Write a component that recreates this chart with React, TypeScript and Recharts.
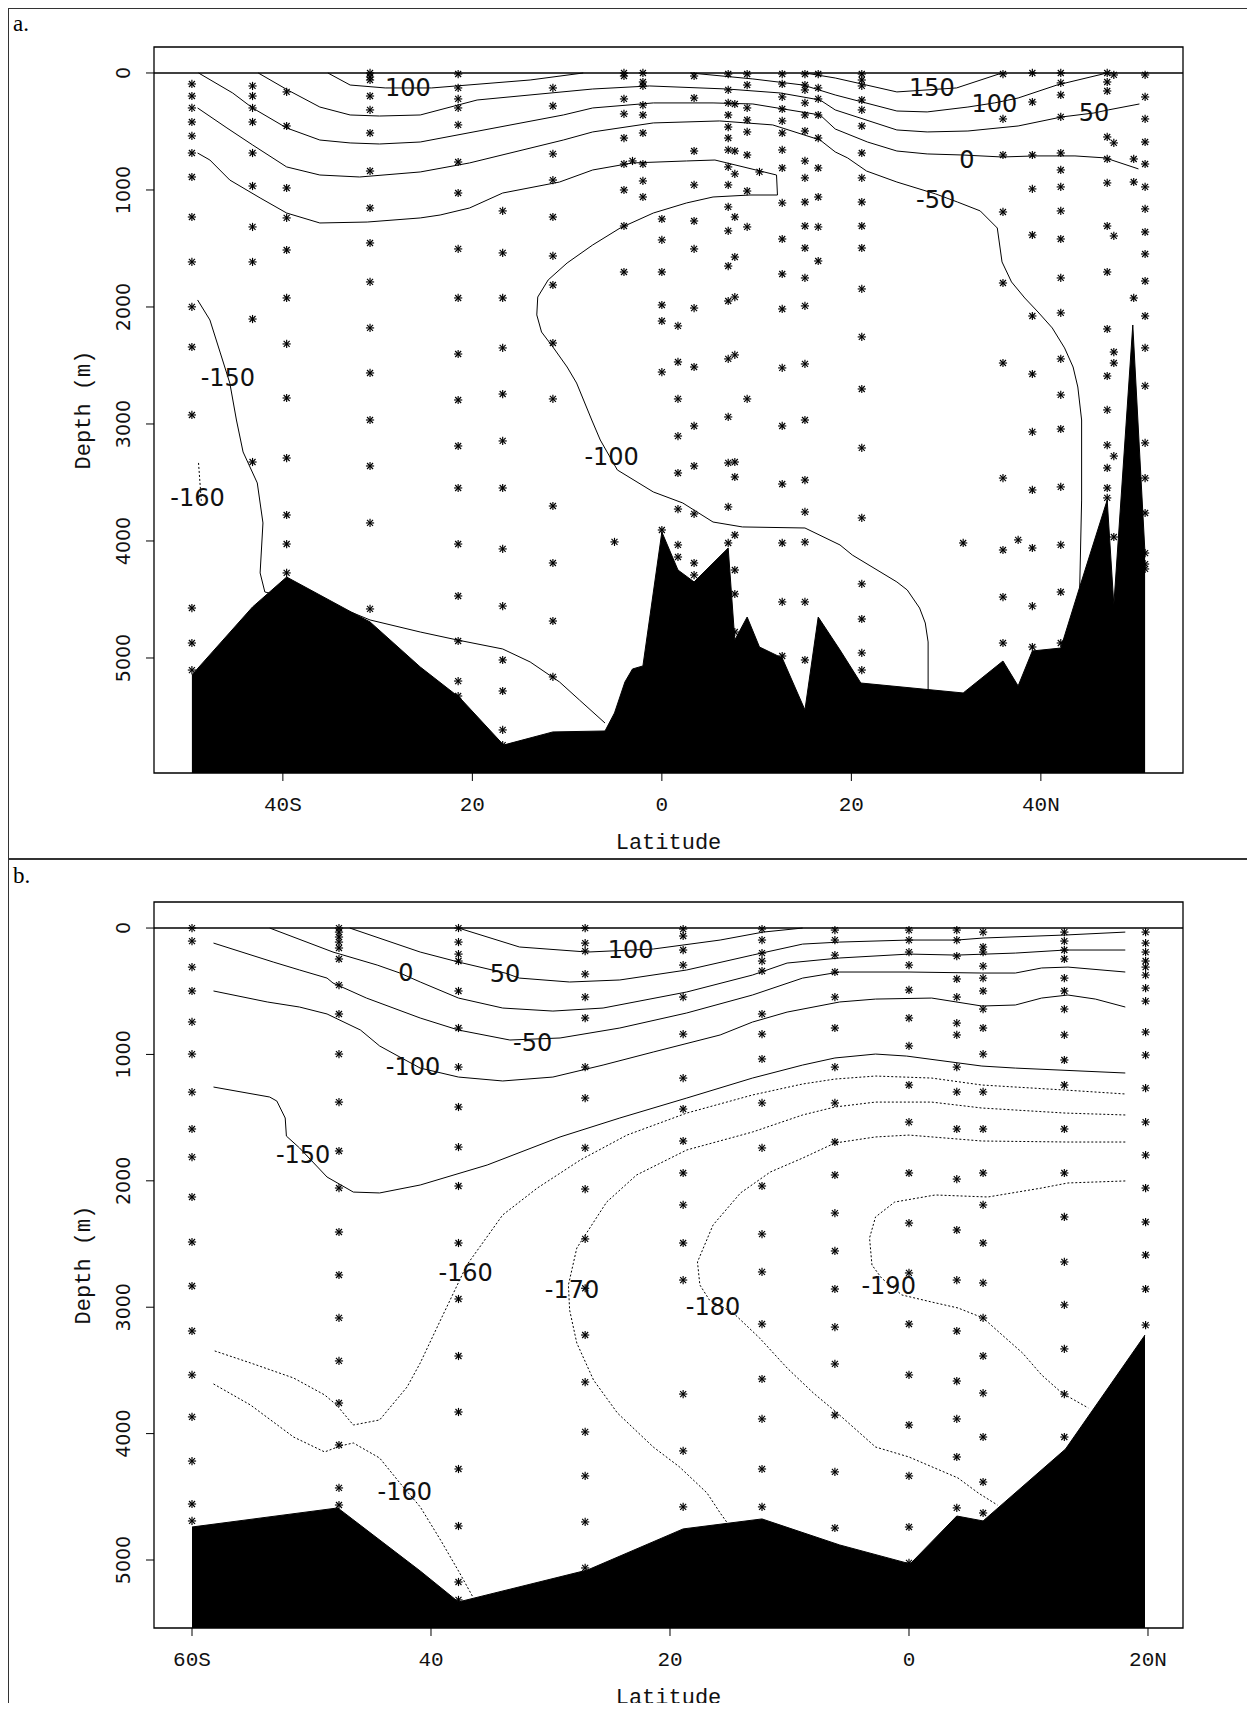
import React from "react";
import {
  ComposedChart,
  XAxis,
  YAxis,
  Line,
  Area,
  Scatter,
  ReferenceLine,
  ReferenceArea,
  Label,
} from "recharts";

type Pair = [number, number]; // [latitude, depth]
type Column = [number, number[]]; // station latitude, sample depths
type Tag = [number, number, string];

const depthTicks = [0, 1000, 2000, 3000, 4000, 5000];

// ---------------- panel a ----------------
const latTicksA = [-40, -20, 0, 20, 40];
const latTickLabelsA = ["40S", "20", "0", "20", "40N"];

const bathyA: Pair[] = [
  [-49.6, 5145], [-43.2, 4564], [-39.6, 4308], [-32.6, 4615], [-30.8, 4692],
  [-25.5, 5077], [-21.3, 5342], [-16.7, 5744], [-11.5, 5632], [-6.0, 5624],
  [-5.0, 5470], [-3.9, 5205], [-3.1, 5094], [-2.0, 5068], [0.0, 3923],
  [1.7, 4248], [3.4, 4350], [7.0, 4060], [7.7, 4846], [9.0, 4650],
  [10.3, 4906], [12.7, 5000], [15.1, 5444], [16.5, 4650], [18.8, 4932],
  [21.0, 5214], [31.8, 5299], [36.0, 5026], [37.6, 5239], [39.1, 4940],
  [42.1, 4915], [44.1, 4393], [47.0, 3650], [47.7, 4547], [49.7, 2154],
  [51.0, 4120],
];

const a100West: Pair[] = [
  [-35.25, 0], [-32.9, 103], [-29.2, 128], [-24.3, 128], [-13.9, 60], [-8.3, 0],
];
const a150: Pair[] = [
  [15.1, 0], [18.3, 43], [21.1, 94], [24.8, 162], [31.1, 128], [35.9, 0],
];
const a100East: Pair[] = [
  [3.0, 0], [9.6, 51], [14.9, 103], [18.3, 188], [24.8, 325], [28.0, 333],
  [32.3, 291], [35.1, 256], [37.6, 214], [41.7, 103], [47.0, 0],
];
const a50: Pair[] = [
  [-42.6, 0], [-39.5, 145], [-36.1, 291], [-32.9, 359], [-29.8, 368], [-25.5, 359],
  [-19.5, 231], [-7.3, 137], [-1.3, 111], [6.9, 137], [12.5, 171], [16.7, 231],
  [18.3, 316], [24.8, 487], [28.0, 504], [32.3, 496], [37.6, 453], [42.2, 376],
  [45.6, 342], [47.1, 316], [50.4, 265],
];
const a0: Pair[] = [
  [-48.9, 0], [-45.3, 171], [-43.2, 299], [-39.6, 470], [-36.1, 573], [-32.9, 598],
  [-29.8, 607], [-25.5, 590], [-10.4, 359], [-7.3, 299], [-0.9, 256], [5.4, 256],
  [9.6, 265], [16.7, 359], [18.3, 479], [21.7, 590], [24.8, 667], [28.0, 692],
  [31.7, 701], [35.9, 718], [39.4, 709], [43.6, 709], [46.8, 726], [50.3, 820],
];
const aM50: Pair[] = [
  [-49.0, 299], [-45.9, 470], [-43.2, 615], [-39.6, 803], [-36.1, 872], [-31.9, 889],
  [-25.5, 846], [-20.3, 769], [-10.4, 573], [-7.3, 504], [-0.9, 427], [6.1, 410],
  [11.7, 444], [16.7, 573], [18.3, 675], [19.6, 726], [21.6, 838], [24.8, 932],
  [28.9, 1034], [31.2, 1103], [33.6, 1179], [35.4, 1325], [35.9, 1615], [36.9, 1786],
  [38.3, 1923], [39.7, 2043], [41.2, 2179], [42.5, 2350], [43.4, 2513], [43.9, 2684],
  [44.3, 2966], [44.3, 3650], [44.1, 4393],
];
const aM100: Pair[] = [
  [-49.0, 684], [-47.7, 744], [-45.6, 915], [-42.4, 1068], [-39.6, 1197], [-36.1, 1282],
  [-31.1, 1274], [-25.5, 1239], [-23.4, 1214], [-20.3, 1154], [-16.8, 1026], [-10.8, 932],
  [-7.3, 829], [-3.1, 769], [2.6, 752], [5.6, 744], [12.1, 872], [12.2, 1043],
  [9.3, 1043], [5.4, 1060], [2.6, 1111], [-0.9, 1197], [-4.4, 1325], [-7.3, 1470],
  [-10.0, 1624], [-12.0, 1769], [-13.1, 1915], [-13.2, 2068], [-12.7, 2214], [-11.5, 2342],
  [-10.0, 2513], [-9.0, 2650], [-7.4, 2966], [-6.5, 3137], [-4.7, 3393], [-0.9, 3581],
  [2.2, 3675], [5.4, 3838], [8.5, 3880], [15.1, 3889], [18.8, 4034], [20.1, 4120],
  [24.8, 4350], [25.9, 4419], [27.2, 4573], [27.8, 4701], [28.1, 4863], [28.1, 5273],
];
const aM150: Pair[] = [
  [-49.0, 1940], [-47.7, 2111], [-46.6, 2393], [-45.6, 2650], [-44.9, 2966], [-44.2, 3239],
  [-42.7, 3504], [-42.1, 3846], [-42.4, 4273], [-41.9, 4436], [-40.6, 4461], [-32.6, 4615],
  [-30.8, 4675], [-25.5, 4778], [-21.6, 4846], [-16.8, 4923], [-13.9, 5034], [-10.8, 5205],
  [-8.7, 5359], [-6.0, 5556],
];
const aM160: Pair[] = [[-48.9, 3333], [-48.6, 3667]];

const tagsA: Tag[] = [
  [-26.8, 128, "100"], [28.5, 128, "150"], [35.1, 265, "100"], [45.6, 342, "50"],
  [32.2, 744, "0"], [28.9, 1085, "-50"], [-5.3, 3282, "-100"], [-45.8, 2607, "-150"],
  [-49.0, 3632, "-160"],
];

const stationsA: Column[] = [
  [-49.6, [94, 197, 299, 419, 538, 684, 889, 1231, 1615, 1999, 2342, 2923, 4573, 4872, 5103]],
  [-43.2, [111, 197, 299, 419, 684, 966, 1316, 1615, 2103, 3325]],
  [-39.6, [162, 453, 983, 1239, 1513, 1923, 2316, 2778, 3291, 3778, 4026, 4273]],
  [-30.8, [0, 34, 60, 197, 316, 513, 838, 1154, 1453, 1786, 2179, 2564, 2966, 3359, 3846, 4581]],
  [-21.5, [9, 128, 222, 299, 444, 761, 1026, 1504, 1923, 2402, 2795, 3188, 3547, 4026, 4470, 4855, 5197, 5325]],
  [-16.8, [1179, 1538, 1923, 2350, 2744, 3145, 3547, 4068, 4556, 5017, 5282, 5615, 5744]],
  [-11.5, [128, 282, 692, 915, 1231, 1564, 1812, 2308, 2786, 3701, 4188, 4684, 5162]],
  [-5.0, [4008]],
  [-4.0, [0, 26, 222, 350, 556, 778, 1000, 1308, 1701]],
  [-3.1, [752]],
  [-2.0, [0, 77, 111, 274, 359, 513, 778, 923, 1060]],
  [0.0, [1248, 1427, 1701, 1983, 2120, 2556, 3906]],
  [1.7, [2162, 2470, 2786, 3103, 3419, 3727, 4034, 4137]],
  [3.4, [26, 214, 667, 957, 1265, 1504, 2009, 2513, 3017, 3359, 3769, 4188, 4291]],
  [7.0, [9, 145, 256, 359, 462, 556, 658, 803, 957, 1145, 1350, 1650, 1949, 2444, 2940, 3333, 3709, 4017]],
  [7.7, [265, 667, 863, 1231, 1573, 1915, 2410, 3325, 3453, 3949, 4248, 4453, 4778]],
  [9.0, [9, 103, 299, 402, 504, 701, 1009, 1316, 2786]],
  [10.3, [846]],
  [12.7, [9, 94, 205, 308, 410, 513, 658, 812, 1111, 1419, 1718, 2017, 2521, 3017, 3513, 4017, 4521, 4983]],
  [15.1, [9, 103, 145, 256, 359, 496, 752, 897, 1103, 1308, 1496, 1752, 1991, 2487, 2966, 3479, 3752, 4009, 4521, 5017]],
  [16.5, [9, 128, 222, 359, 556, 812, 1060, 1316, 1607]],
  [21.1, [9, 60, 111, 231, 316, 453, 684, 897, 1103, 1308, 1496, 1846, 2256, 2701, 3205, 3803, 4367, 4667, 4957, 5103]],
  [31.8, [4017]],
  [36.0, [9, 393, 701, 1188, 1795, 2479, 3462, 4077, 4479, 4872]],
  [37.6, [3991]],
  [39.1, [0, 248, 701, 991, 1385, 2077, 2573, 3068, 3564, 4060, 4556, 4906]],
  [42.1, [0, 85, 188, 376, 684, 829, 974, 1179, 1419, 1752, 2051, 2444, 2752, 3043, 3538, 4034, 4436, 4872]],
  [47.0, [0, 77, 154, 547, 735, 940, 1308, 1701, 2188, 2590, 2880, 3180, 3376, 3547, 3632]],
  [47.7, [17, 598, 1393, 2385, 2479, 3274, 3966]],
  [49.8, [735, 932, 1923]],
  [51.0, [17, 205, 393, 590, 778, 974, 1162, 1359, 1547, 1778, 2077, 2350, 2675, 3162, 3462, 3761, 4103, 4197, 4239]],
];

// ---------------- panel b ----------------
const latTicksB = [-60, -40, -20, 0, 20];
const latTickLabelsB = ["60S", "40", "20", "0", "20N"];

const bathyB: Pair[] = [
  [-60, 4739], [-47.8, 4588], [-40.9, 5087], [-37.7, 5332], [-26.9, 5079],
  [-18.9, 4754], [-12.3, 4675], [-5.8, 4881], [0.1, 5031], [4.0, 4652],
  [6.2, 4691], [13.1, 4122], [19.75, 3220],
];

const b100: Pair[] = [
  [-37.7, 0], [-32.6, 150], [-26.9, 190], [-21.4, 166], [-15.8, 95], [-12.2, 32], [-8.9, 0],
];
const b50: Pair[] = [
  [-46.8, 0], [-40.9, 190], [-37.7, 269], [-33.8, 356], [-32.6, 396], [-28.4, 427],
  [-24.2, 411], [-18.6, 332], [-13.1, 214], [-8.9, 127], [-5.8, 111], [0.0, 95],
  [4.0, 95], [6.2, 79], [13.1, 55], [18.1, 32],
];
const b0: Pair[] = [
  [-53.5, 0], [-48.2, 190], [-44.5, 293], [-42.6, 356], [-40.9, 427], [-37.7, 554],
  [-34.0, 633], [-29.8, 657], [-25.6, 633], [-18.6, 506], [-13.1, 372], [-10.2, 277],
  [-5.8, 237], [0.0, 206], [4.0, 214], [8.9, 198], [13.1, 174], [18.1, 174],
];
const bM50: Pair[] = [
  [-58.2, 119], [-53.2, 269], [-51.0, 332], [-48.7, 396], [-48.2, 435], [-45.4, 554],
  [-40.9, 712], [-37.7, 807], [-33.4, 886], [-29.2, 870], [-24.2, 791], [-18.6, 672],
  [-13.1, 530], [-8.9, 396], [-5.8, 348], [0.0, 348], [6.1, 356], [8.9, 356],
  [11.1, 316], [13.3, 309], [18.1, 348],
];
const bM100: Pair[] = [
  [-58.2, 498], [-53.7, 585], [-51.0, 625], [-48.7, 680], [-45.9, 807], [-44.3, 933],
  [-42.6, 1021], [-40.9, 1108], [-37.7, 1179], [-34.0, 1210], [-29.8, 1179], [-25.6, 1084],
  [-21.4, 981], [-15.8, 846], [-13.1, 744], [-10.2, 665], [-5.8, 585], [-2.8, 562],
  [1.9, 554], [6.1, 617], [8.9, 609], [11.1, 554], [13.3, 530], [15.6, 562], [18.1, 625],
];
const bM150: Pair[] = [
  [-58.2, 1258], [-53.5, 1337], [-52.9, 1369], [-52.2, 1503], [-52.1, 1646], [-51.0, 1740],
  [-48.7, 1970], [-46.5, 2089], [-44.3, 2096], [-40.9, 2033], [-35.3, 1875], [-29.2, 1653],
  [-24.2, 1503], [-18.6, 1345], [-13.1, 1187], [-8.9, 1084], [-6.2, 1028], [-2.8, 997],
  [-0.2, 1013], [6.1, 1092], [8.9, 1108], [18.1, 1147],
];
const bM160Upper: Pair[] = [
  [-58.1, 3346], [-55.1, 3441], [-51.5, 3560], [-48.9, 3694], [-47.9, 3774], [-46.5, 3932],
  [-44.3, 3892], [-42.0, 3631], [-40.9, 3441], [-39.2, 3101], [-37.6, 2785], [-37.0, 2666],
  [-34.0, 2270], [-31.1, 2057], [-27.5, 1835], [-23.6, 1638], [-18.6, 1464], [-13.1, 1321],
  [-8.9, 1234], [-6.2, 1195], [-2.8, 1171], [1.9, 1187], [6.1, 1242], [13.1, 1282], [18.1, 1313],
];
const bM160Lower: Pair[] = [
  [-58.2, 3607], [-55.1, 3774], [-51.5, 4027], [-48.9, 4145], [-47.6, 4098], [-46.5, 4074],
  [-44.3, 4193], [-42.6, 4391], [-40.9, 4580], [-39.2, 4842], [-37.6, 5103], [-36.5, 5292],
];
const bM170: Pair[] = [
  [18.1, 1479], [13.1, 1464], [6.1, 1424], [1.9, 1377], [-2.8, 1377], [-6.2, 1416],
  [-8.9, 1479], [-13.1, 1614], [-18.6, 1756], [-22.8, 1954], [-25.3, 2168], [-27.8, 2532],
  [-28.5, 2824], [-28.4, 3022], [-27.8, 3283], [-26.4, 3576], [-24.4, 3837], [-21.4, 4106],
  [-19.2, 4264], [-16.9, 4470], [-15.8, 4628], [-15.2, 4707],
];
const bM180: Pair[] = [
  [18.1, 1693], [13.3, 1693], [6.1, 1685], [0.0, 1638], [-2.8, 1653], [-6.2, 1701],
  [-8.9, 1820], [-11.6, 1930], [-14.1, 2096], [-16.4, 2350], [-17.7, 2642], [-17.5, 2824],
  [-16.7, 2943], [-14.7, 3046], [-12.5, 3244], [-10.2, 3481], [-8.0, 3679], [-6.0, 3837],
  [-2.8, 4106], [0.0, 4185], [4.1, 4351], [5.8, 4470], [7.4, 4565],
];
const bM190: Pair[] = [
  [18.1, 2001], [13.3, 2017], [11.1, 2057], [6.6, 2128], [2.2, 2112], [-1.2, 2168],
  [-2.8, 2286], [-3.3, 2452], [-3.1, 2666], [-2.3, 2769], [-0.6, 2903], [1.9, 2959],
  [4.1, 3006], [6.2, 3085], [7.8, 3220], [9.5, 3362], [11.1, 3536], [12.8, 3679], [15.0, 3797],
];

const tagsB: Tag[] = [
  [-23.3, 174, "100"], [-33.8, 364, "50"], [-42.1, 356, "0"], [-31.5, 910, "-50"],
  [-41.5, 1100, "-100"], [-50.7, 1796, "-150"], [-37.1, 2729, "-160"], [-28.2, 2864, "-170"],
  [-16.4, 2998, "-180"], [-1.7, 2832, "-190"], [-42.2, 4462, "-160"],
];

const stationsB: Column[] = [
  [-60, [0, 103, 309, 498, 743, 997, 1298, 1590, 1812, 2128, 2484, 2832, 3188, 3536, 3868, 4217, 4557, 4691]],
  [-47.7, [0, 32, 71, 111, 158, 245, 451, 680, 997, 1377, 1764, 2057, 2405, 2745, 3085, 3425, 3758, 4090, 4430, 4565]],
  [-37.7, [0, 111, 206, 261, 498, 791, 1100, 1416, 1733, 2041, 2492, 2935, 3386, 3829, 4280, 4731, 5174, 5316]],
  [-27.1, [0, 119, 182, 364, 546, 712, 1100, 1345, 1740, 2065, 2460, 2850, 3220, 3592, 3987, 4335, 4699, 5063]],
  [-18.9, [8, 63, 174, 293, 546, 839, 1187, 1432, 1685, 1938, 2191, 2492, 2785, 3687, 4137, 4580]],
  [-12.3, [8, 95, 198, 261, 340, 680, 839, 1036, 1384, 1740, 2041, 2421, 2721, 3133, 3568, 3884, 4280, 4580]],
  [-6.2, [16, 95, 214, 348, 546, 791, 1100, 1384, 1693, 1954, 2255, 2555, 2856, 3157, 3449, 3853, 4303, 4747]],
  [0.0, [16, 95, 190, 293, 490, 712, 933, 1242, 1535, 1938, 2334, 2729, 3133, 3536, 3932, 4335, 4739, 5023]],
  [4.0, [16, 95, 222, 403, 546, 752, 846, 1100, 1297, 1590, 1986, 2389, 2785, 3188, 3584, 3884, 4185, 4588]],
  [6.2, [32, 150, 190, 301, 396, 498, 641, 791, 997, 1297, 1590, 1938, 2191, 2492, 2808, 3085, 3386, 3679, 4027, 4383, 4628]],
  [13.0, [32, 103, 174, 245, 396, 498, 641, 846, 1044, 1242, 1590, 1938, 2286, 2642, 2982, 3330, 3687, 4027]],
  [19.8, [32, 119, 190, 261, 309, 372, 475, 578, 823, 1005, 1266, 1535, 1796, 2057, 2326, 2587, 2856, 3141]],
];

// -------------------------------------------
const pts = (p: Pair[]) => p.map(([lat, depth]) => ({ lat, depth }));
const stationPts = (cols: Column[]) =>
  cols.flatMap(([lat, ds]) => ds.map((depth) => ({ lat, depth })));
const tagPts = (t: Tag[]) => t.map(([lat, depth, text]) => ({ lat, depth, text }));

const MONO = "'Liberation Mono', 'DejaVu Sans Mono', monospace";
const SANS = "'DejaVu Sans', sans-serif";

const Star = (props: any) => {
  const { cx, cy } = props;
  if (cx == null || cy == null) return null;
  const r = 4.1;
  const d = 3;
  return (
    <g stroke="#000" strokeWidth={1.15}>
      <line x1={cx - r} y1={cy} x2={cx + r} y2={cy} />
      <line x1={cx} y1={cy - r} x2={cx} y2={cy + r} />
      <line x1={cx - d} y1={cy - d} x2={cx + d} y2={cy + d} />
      <line x1={cx - d} y1={cy + d} x2={cx + d} y2={cy - d} />
    </g>
  );
};

const ContourTag = (props: any) => {
  const { cx, cy, payload } = props;
  if (cx == null || cy == null) return null;
  return (
    <text x={cx} y={cy + 8} textAnchor="middle" fontFamily={SANS} fontSize={24} fill="#111">
      {payload.text}
    </text>
  );
};

const DepthTick = (props: any) => {
  const { x, y, payload } = props;
  const bx = x - 14;
  return (
    <text x={bx} y={y} transform={`rotate(-90 ${bx} ${y})`} textAnchor="middle" fontFamily={SANS} fontSize={19} fill="#111">
      {payload.value}
    </text>
  );
};

const makeLatTick = (ticks: number[], labels: string[]) => (props: any) => {
  const { x, y, payload } = props;
  const i = ticks.indexOf(payload.value);
  return (
    <text x={x} y={y + 28} textAnchor="middle" fontFamily={MONO} fontSize={21} fill="#111">
      {i >= 0 ? labels[i] : payload.value}
    </text>
  );
};

type PanelProps = {
  height: number;
  top: number;
  bottom: number;
  latDomain: [number, number];
  depthDomain: [number, number];
  latTicks: number[];
  latLabels: string[];
  bathy: Pair[];
  solid: Pair[][];
  dotted: Pair[][];
  stations: Column[];
  tags: Tag[];
};

const Panel = ({ height, top, bottom, latDomain, depthDomain, latTicks, latLabels, bathy, solid, dotted, stations, tags }: PanelProps) => (
  <ComposedChart
    width={1255}
    height={height}
    data={pts(bathy)}
    margin={{ top, right: 72, bottom, left: 94 }}
  >
    <XAxis
      type="number"
      dataKey="lat"
      domain={latDomain}
      allowDataOverflow
      ticks={latTicks}
      interval={0}
      axisLine={false}
      tickLine={{ stroke: "#000" }}
      tickSize={8}
      height={60}
      tick={makeLatTick(latTicks, latLabels)}
    >
      <Label
        content={({ viewBox }: any) => (
          <text x={viewBox.x + viewBox.width / 2} y={viewBox.y + 76} textAnchor="middle" fontFamily={MONO} fontSize={22} fill="#111">
            Latitude
          </text>
        )}
      />
    </XAxis>
    <YAxis
      type="number"
      dataKey="depth"
      domain={depthDomain}
      reversed
      allowDataOverflow
      ticks={depthTicks}
      interval={0}
      axisLine={false}
      tickLine={{ stroke: "#000" }}
      tickSize={8}
      width={60}
      tick={<DepthTick />}
    >
      <Label
        content={({ viewBox }: any) => {
          const x = viewBox.x - 4;
          const y = viewBox.y + viewBox.height / 2;
          return (
            <text x={x} y={y} transform={`rotate(-90 ${x} ${y})`} textAnchor="middle" fontFamily={MONO} fontSize={22} fill="#111">
              Depth (m)
            </text>
          );
        }}
      />
    </YAxis>
    {solid.map((c, i) => (
      <Line key={`s${i}`} data={pts(c)} dataKey="depth" type="linear" stroke="#000" strokeWidth={1} dot={false} isAnimationActive={false} />
    ))}
    {dotted.map((c, i) => (
      <Line key={`d${i}`} data={pts(c)} dataKey="depth" type="linear" stroke="#000" strokeWidth={1} strokeDasharray="2 2" dot={false} isAnimationActive={false} />
    ))}
    <Area dataKey="depth" type="linear" baseValue={depthDomain[1]} fill="#000" fillOpacity={1} stroke="#000" strokeWidth={1} isAnimationActive={false} />
    <ReferenceLine y={0} stroke="#000" strokeWidth={1.4} />
    <Scatter data={stationPts(stations)} shape={<Star />} isAnimationActive={false} />
    <Scatter data={tagPts(tags)} shape={<ContourTag />} isAnimationActive={false} />
    <ReferenceArea
      x1={latDomain[0]}
      x2={latDomain[1]}
      y1={depthDomain[0]}
      y2={depthDomain[1]}
      fill="none"
      stroke="#000"
      strokeWidth={1.3}
      ifOverflow="visible"
    />
  </ComposedChart>
);

const frame: React.CSSProperties = {
  position: "absolute",
  left: 7,
  width: 1246,
  border: "2px solid #333",
  boxSizing: "border-box",
};

const tag: React.CSSProperties = {
  position: "absolute",
  left: 13,
  fontFamily: "'Liberation Serif', 'DejaVu Serif', serif",
  fontSize: 23,
  lineHeight: "23px",
  color: "#000",
};

export default function App() {
  return (
    <div style={{ position: "relative", width: 1255, height: 1711, margin: -8, overflow: "hidden", background: "#fff" }}>
      <div style={{ ...frame, top: 7, height: 853 }} />
      <div style={{ ...frame, top: 858, height: 870 }} />
      <div style={{ ...tag, top: 12 }}>a.</div>
      <div style={{ ...tag, top: 864 }}>b.</div>
      <div style={{ position: "absolute", left: 0, top: 0 }}>
        <Panel
          height={860}
          top={47}
          bottom={27}
          latDomain={[-53.6, 55.0]}
          depthDomain={[-222, 5983]}
          latTicks={latTicksA}
          latLabels={latTickLabelsA}
          bathy={bathyA}
          solid={[a100West, a150, a100East, a50, a0, aM50, aM100, aM150]}
          dotted={[aM160]}
          stations={stationsA}
          tags={tagsA}
        />
      </div>
      <div style={{ position: "absolute", left: 0, top: 860 }}>
        <Panel
          height={851}
          top={42}
          bottom={23}
          latDomain={[-63.18, 22.93]}
          depthDomain={[-206, 5538]}
          latTicks={latTicksB}
          latLabels={latTickLabelsB}
          bathy={bathyB}
          solid={[b100, b50, b0, bM50, bM100, bM150]}
          dotted={[bM160Upper, bM160Lower, bM170, bM180, bM190]}
          stations={stationsB}
          tags={tagsB}
        />
      </div>
    </div>
  );
}
